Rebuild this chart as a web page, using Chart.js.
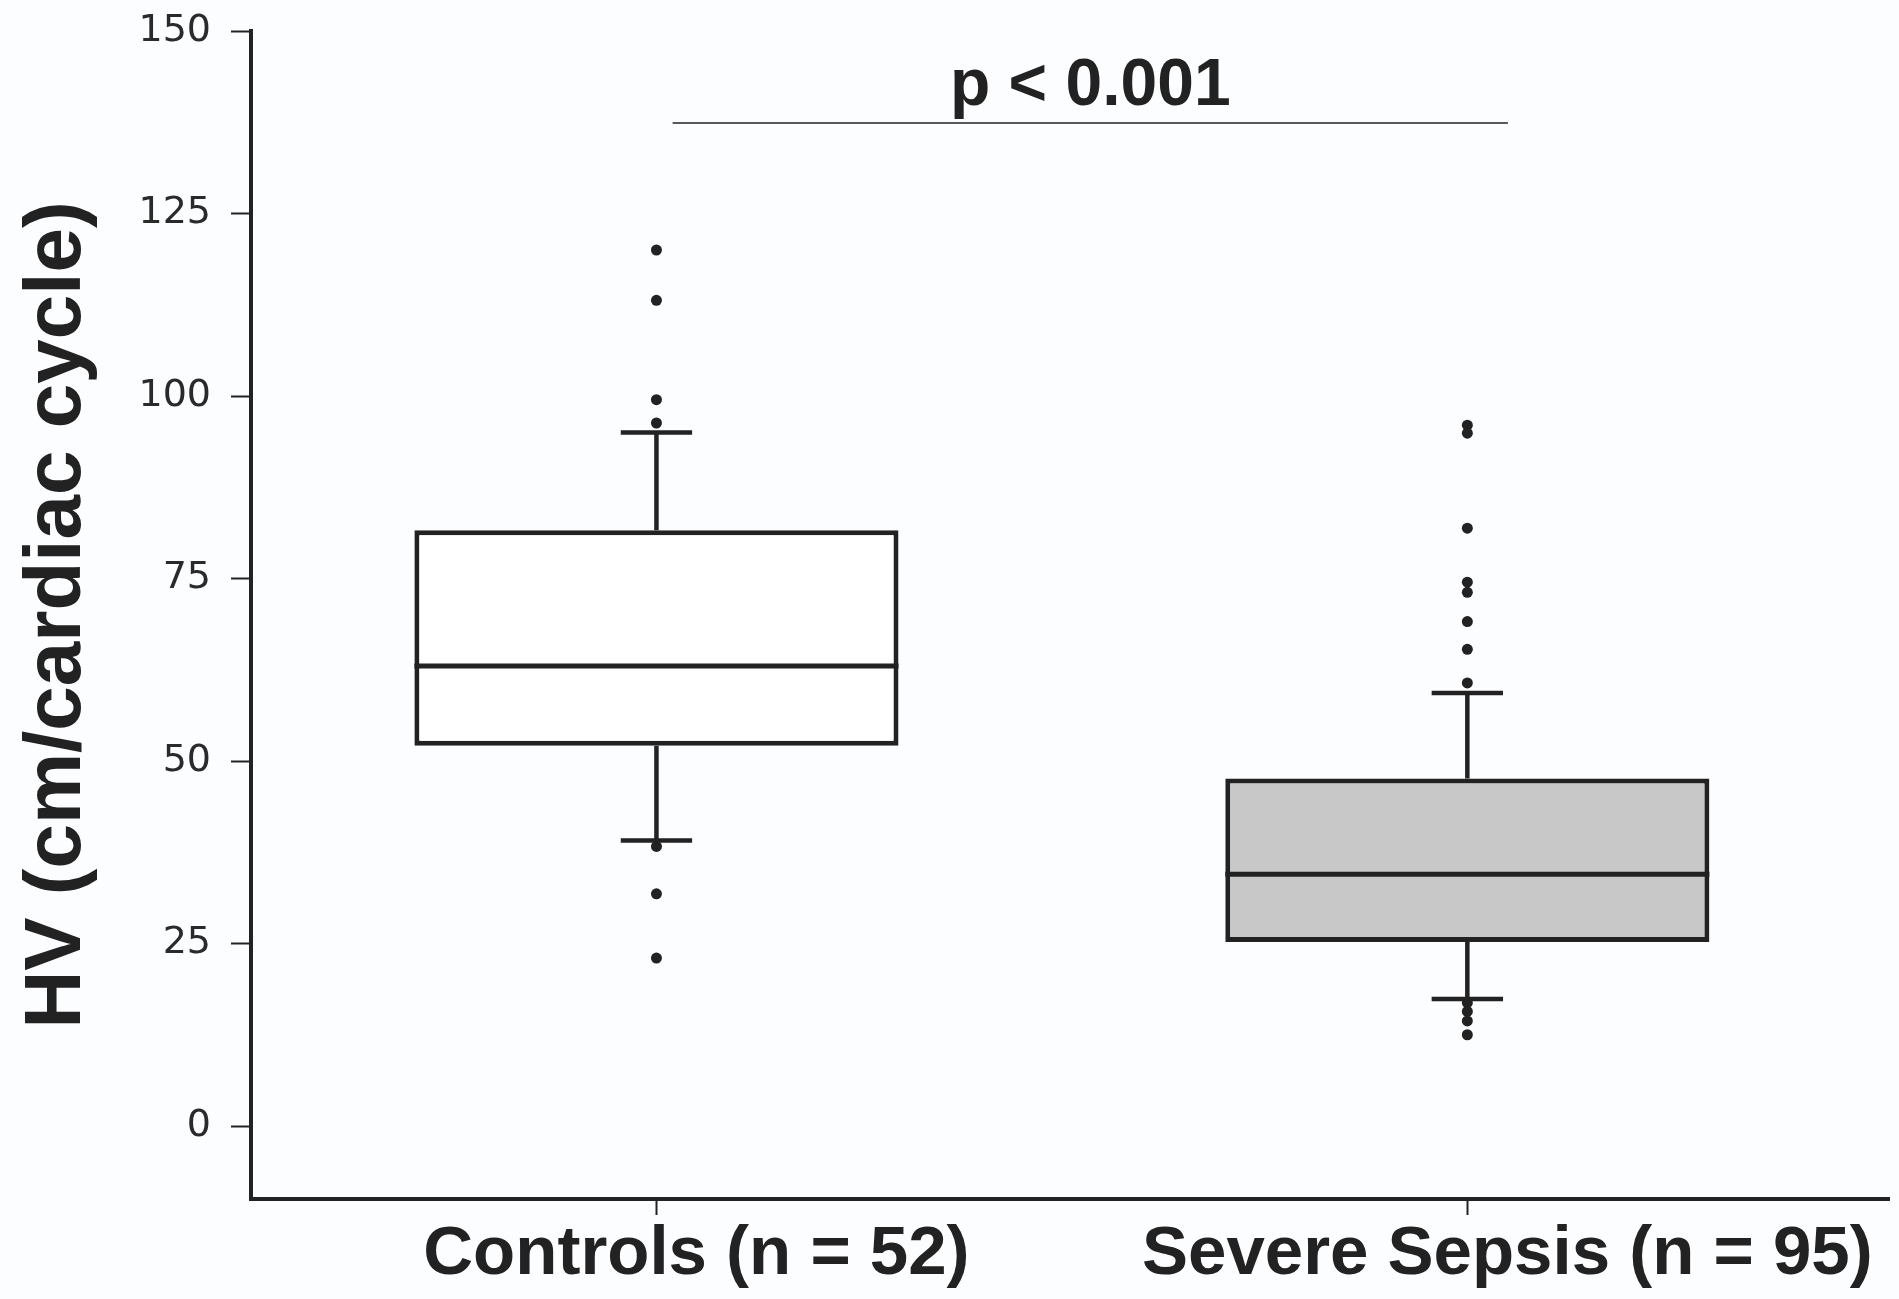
<!DOCTYPE html>
<html>
<head>
<meta charset="utf-8">
<title>HV box plot</title>
<script src="https://cdn.jsdelivr.net/npm/chart.js"></script>
<style>
    html, body { margin: 0; padding: 0; background: #fcfdff; }
    #wrap { width: 1899px; height: 1299px; position: relative; }
</style>
</head>
<body>
<div id="wrap"><canvas id="hvChart"></canvas></div>
<script>
// Groups and box plot summary values
const categories = ['Controls (n = 52)', 'Severe Sepsis (n = 95)'];
const q1 = [52.1, 25.2];
const medians = [63.0, 34.5];
const q3 = [81.6, 47.6];
const whiskerLow = [39.1, 17.4];
const whiskerHigh = [95.0, 59.3];
const outliersControls = [120.0, 113.1, 99.5, 96.3, 38.3, 31.8, 23.0];
const outliersSepsis = [96.0, 94.9, 81.9, 74.5, 73.1, 69.1, 65.3, 60.7, 16.9, 15.7, 14.4, 12.5];
const boxColors = ['#ffffff', '#c8c8c8'];
const yTicks = [0, 25, 50, 75, 100, 125, 150];
const pValueText = 'p < 0.001';

const ink = '#222222';

// Whiskers, caps, medians and the significance bar
const boxExtras = {
    id: 'boxExtras',
    afterDatasetsDraw(chart) {
        const { ctx, scales: { x, y } } = chart;
        const boxes = chart.getDatasetMeta(0).data;
        ctx.save();
        ctx.strokeStyle = ink;
        ctx.lineCap = 'butt';

        categories.forEach((cat, i) => {
            const cx = x.getPixelForValue(i);
            const capHalf = (x.getPixelForValue(i + 0.044) - cx);

            ctx.lineWidth = 4.5;
            ctx.beginPath();
            ctx.moveTo(cx, y.getPixelForValue(q3[i]));
            ctx.lineTo(cx, y.getPixelForValue(whiskerHigh[i]));
            ctx.moveTo(cx, y.getPixelForValue(q1[i]));
            ctx.lineTo(cx, y.getPixelForValue(whiskerLow[i]));
            ctx.stroke();

            ctx.beginPath();
            ctx.moveTo(cx - capHalf, y.getPixelForValue(whiskerHigh[i]));
            ctx.lineTo(cx + capHalf, y.getPixelForValue(whiskerHigh[i]));
            ctx.moveTo(cx - capHalf, y.getPixelForValue(whiskerLow[i]));
            ctx.lineTo(cx + capHalf, y.getPixelForValue(whiskerLow[i]));
            ctx.stroke();

            // median line across the box
            const box = boxes[i];
            ctx.lineWidth = 5;
            ctx.beginPath();
            ctx.moveTo(box.x - box.width / 2, y.getPixelForValue(medians[i]));
            ctx.lineTo(box.x + box.width / 2, y.getPixelForValue(medians[i]));
            ctx.stroke();
        });

        // significance bar
        const barY = y.getPixelForValue(137.4);
        const x0 = x.getPixelForValue(0.02);
        const x1 = x.getPixelForValue(1.05);
        ctx.lineWidth = 1.5;
        ctx.beginPath();
        ctx.moveTo(x0, barY);
        ctx.lineTo(x1, barY);
        ctx.stroke();

        ctx.fillStyle = ink;
        ctx.font = 'bold 66px "Liberation Sans", Arial, sans-serif';
        ctx.textAlign = 'center';
        ctx.textBaseline = 'alphabetic';
        ctx.fillText(pValueText, (x0 + x1) / 2, y.getPixelForValue(139.8));
        ctx.restore();
    }
};

function toPoints(index, values) {
    return values.map(v => ({ x: index, y: v }));
}

const ctx = document.getElementById('hvChart');

new Chart(ctx, {
    type: 'bar',
    data: {
        datasets: [{
            label: 'IQR',
            data: categories.map((c, i) => ({ x: i, y: [q1[i], q3[i]] })),
            backgroundColor: boxColors,
            borderColor: ink,
            borderWidth: 5,
            borderSkipped: false,
            categoryPercentage: 1,
            barPercentage: 0.597
        }, {
            type: 'scatter',
            label: 'Outliers',
            data: toPoints(0, outliersControls).concat(toPoints(1, outliersSepsis)),
            backgroundColor: ink,
            borderColor: ink,
            pointRadius: 5.5,
            pointBorderWidth: 0
        }]
    },
    options: {
        responsive: true,
        maintainAspectRatio: false,
        animation: false,
        layout: {
            padding: { top: 31, right: 10, bottom: 0, left: 0 }
        },
        plugins: {
            legend: { display: false },
            tooltip: { enabled: false }
        },
        scales: {
            x: {
                type: 'linear',
                min: -0.5,
                max: 1.52,
                offset: false,
                grid: {
                    display: true,
                    offset: false,
                    drawOnChartArea: false,
                    drawTicks: true,
                    tickLength: 16,
                    tickColor: ink,
                    tickWidth: 2
                },
                border: { display: true, color: ink, width: 4 },
                afterBuildTicks(scale) {
                    scale.ticks = categories.map((c, i) => ({ value: i }));
                },
                ticks: {
                    color: ink,
                    padding: 5,
                    labelOffset: 40,
                    maxRotation: 0,
                    autoSkip: false,
                    callback: value => categories[value],
                    font: { family: '"Liberation Sans", Arial, sans-serif', size: 69, weight: 'bold', lineHeight: 1 }
                },
                afterFit(scale) {
                    scale.height = 100;
                    scale.paddingLeft = 0;
                    scale.paddingRight = 0;
                }
            },
            y: {
                type: 'linear',
                min: -10,
                max: 150,
                grid: {
                    display: true,
                    drawOnChartArea: false,
                    drawTicks: true,
                    tickLength: 20,
                    tickColor: ink,
                    tickWidth: 2
                },
                border: { display: true, color: ink, width: 4 },
                afterBuildTicks(scale) {
                    scale.ticks = yTicks.map(v => ({ value: v }));
                },
                ticks: {
                    color: '#2a2a2a',
                    padding: 20,
                    font: { family: '"DejaVu Sans", sans-serif', size: 38 }
                },
                title: {
                    display: true,
                    text: 'HV (cm/cardiac cycle)',
                    color: ink,
                    padding: { top: 18, bottom: 0 },
                    font: { family: '"Liberation Sans", Arial, sans-serif', size: 80, weight: 'bold', lineHeight: 1 }
                },
                afterFit(scale) {
                    scale.width = 251;
                    scale.paddingTop = 0;
                    scale.paddingBottom = 0;
                }
            }
        }
    },
    plugins: [boxExtras]
});
</script>
</body>
</html>
